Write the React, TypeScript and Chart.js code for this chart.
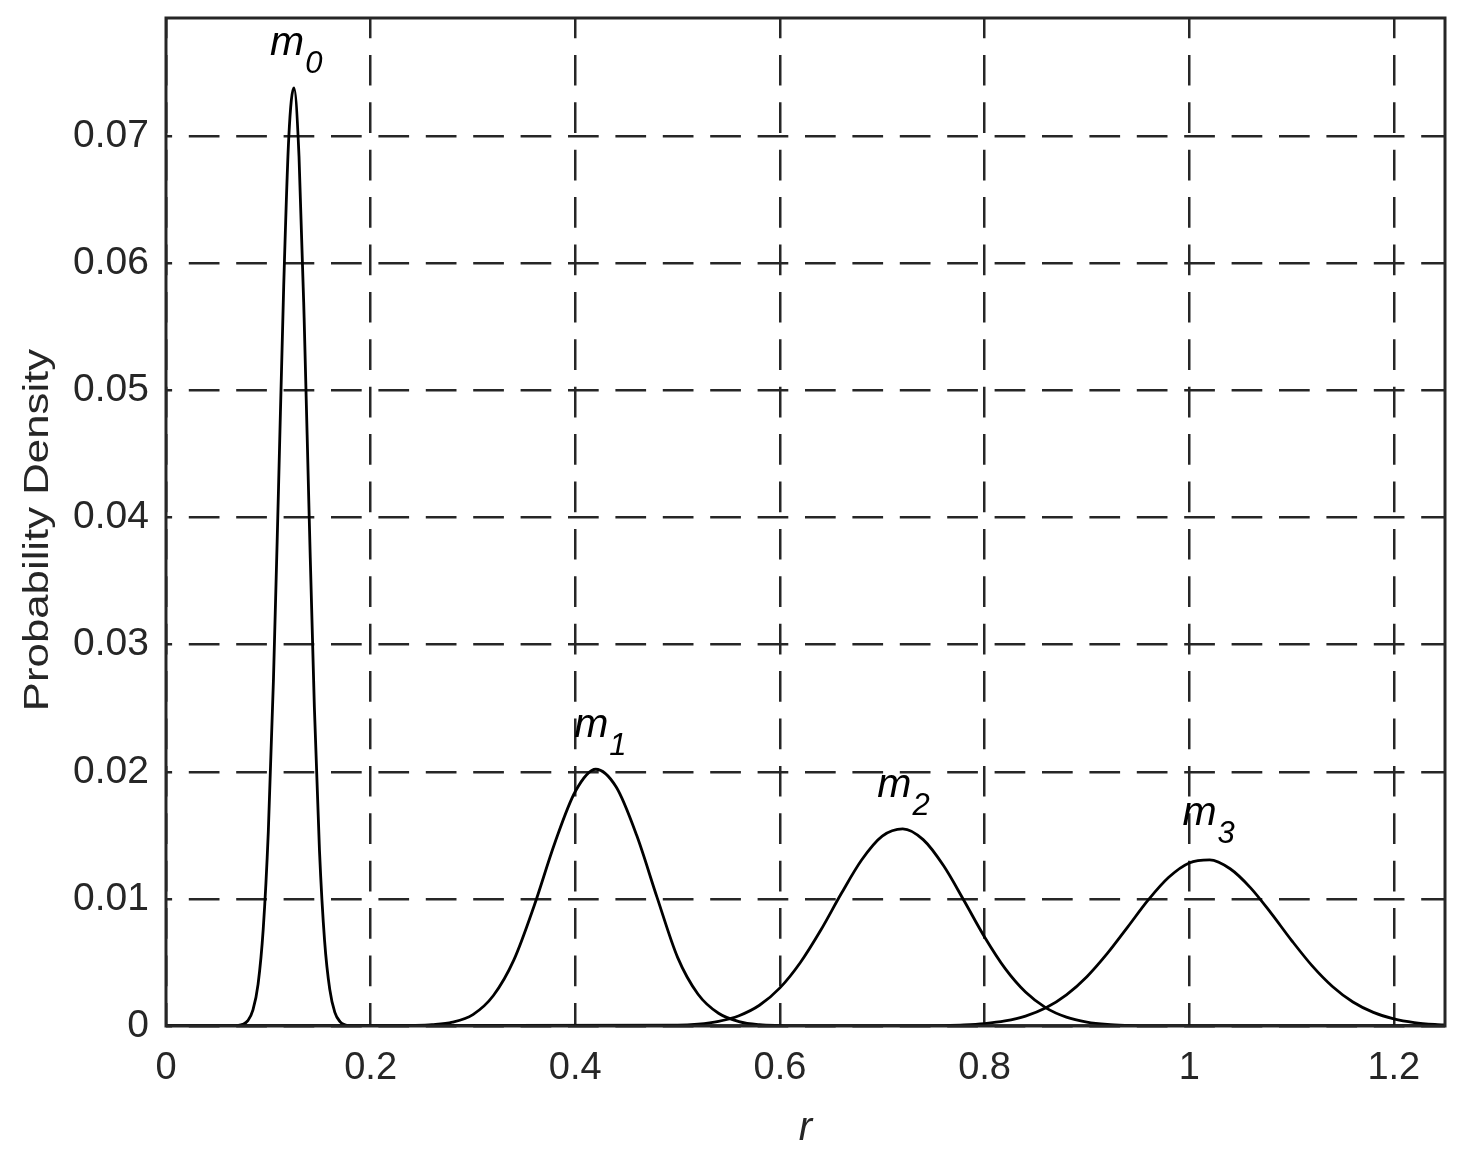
import React, { useEffect, useRef } from 'react';
import { Chart, registerables } from 'chart.js';

Chart.register(...registerables);

// ---- axis ticks ----
const xTickValues = [0, 0.2, 0.4, 0.6, 0.8, 1, 1.2];
const xTickLabels = ['0', '0.2', '0.4', '0.6', '0.8', '1', '1.2'];
const yTickValues = [0, 0.01, 0.02, 0.03, 0.04, 0.05, 0.06, 0.07];
const yTickLabels = ['0', '0.01', '0.02', '0.03', '0.04', '0.05', '0.06', '0.07'];
const xMin = 0;
const xMax = 1.25;
const yMin = 0;
const yMax = 0.0793;

// ---- curves (r, probability density) ----
const m0R = [0, 0.065, 0.07, 0.075, 0.08, 0.085, 0.09, 0.095, 0.1, 0.105, 0.11, 0.115, 0.12, 0.125, 0.13, 0.135, 0.14, 0.145, 0.15, 0.155, 0.16, 0.165, 0.17, 0.175, 0.18, 0.185, 1.25];
const m0P = [0, 0, 0.00003, 0.00013, 0.00042, 0.00126, 0.0033, 0.0076, 0.0153, 0.0272, 0.0424, 0.0581, 0.0699, 0.0738, 0.0684, 0.0557, 0.0399, 0.0251, 0.0138, 0.0067, 0.0029, 0.00107, 0.00035, 0.0001, 0.00003, 0, 0];

const m1R = [0, 0.22, 0.24, 0.26, 0.28, 0.3, 0.32, 0.34, 0.36, 0.38, 0.4, 0.42, 0.44, 0.46, 0.48, 0.5, 0.52, 0.54, 0.56, 0.58, 0.6, 0.62, 1.25];
const m1P = [0, 0, 0.00003, 0.0001, 0.0003, 0.0009, 0.0024, 0.0052, 0.0095, 0.0144, 0.01845, 0.0202, 0.0188, 0.015, 0.0101, 0.0054, 0.0025, 0.001, 0.00035, 0.0001, 0.00003, 0, 0];

const m2R = [0, 0.5, 0.52, 0.54, 0.56, 0.58, 0.6, 0.62, 0.64, 0.66, 0.68, 0.7, 0.72, 0.74, 0.76, 0.78, 0.8, 0.82, 0.84, 0.86, 0.88, 0.9, 0.92, 0.94, 0.96, 1.25];
const m2P = [0, 0.00006, 0.00015, 0.00037, 0.00081, 0.00163, 0.003, 0.005, 0.00755, 0.01042, 0.01308, 0.01494, 0.01551, 0.01466, 0.0126, 0.00985, 0.007, 0.00453, 0.00267, 0.00143, 0.0007, 0.00031, 0.00012, 0.00004, 0, 0];

const m3R = [0, 0.72, 0.74, 0.76, 0.78, 0.8, 0.82, 0.84, 0.86, 0.88, 0.9, 0.92, 0.94, 0.96, 0.98, 1, 1.02, 1.04, 1.06, 1.08, 1.1, 1.12, 1.14, 1.16, 1.18, 1.2, 1.22, 1.24, 1.25];
const m3P = [0, 0, 0.00001, 0.00003, 0.00008, 0.00019, 0.0004, 0.00078, 0.00143, 0.00245, 0.00388, 0.00571, 0.0078, 0.00992, 0.0117, 0.01283, 0.01307, 0.01237, 0.01087, 0.00888, 0.00674, 0.00475, 0.00311, 0.00189, 0.00107, 0.00056, 0.00027, 0.00012, 0.00008];

// ---- curve labels (text anchors in data units) ----
const labelMain = ['m', 'm', 'm', 'm'];
const labelSub = ['0', '1', '2', '3'];
const labelR = [0.1017, 0.3989, 0.6951, 0.9934];
const labelP = [0.0764, 0.0227, 0.01798, 0.01578];

const xTitle = 'r';
const yTitle = 'Probability Density';

const FONT = '"Liberation Sans", Arial, Helvetica, sans-serif';
const INK = '#262626';

function pts(rs: number[], ps: number[]) {
  return rs.map((r, i) => ({ x: r, y: ps[i] }));
}

function labelFor(values: number[], labels: string[], v: number) {
  const i = values.findIndex((t) => Math.abs(t - v) < 1e-9);
  return i >= 0 ? labels[i] : '';
}

const framePlugin = {
  id: 'framePlugin',
  afterDraw(chart: any) {
    const { ctx, chartArea } = chart;
    const { left, right, top, bottom } = chartArea;
    const xs = chart.scales.x;
    const ys = chart.scales.y;
    ctx.save();
    // axes box
    ctx.strokeStyle = INK;
    ctx.lineWidth = 3;
    ctx.setLineDash([]);
    ctx.strokeRect(left, top, right - left, bottom - top);

    // curve labels
    ctx.fillStyle = '#000';
    ctx.textBaseline = 'alphabetic';
    ctx.textAlign = 'left';
    for (let i = 0; i < labelMain.length; i++) {
      const px = xs.getPixelForValue(labelR[i]);
      const py = ys.getPixelForValue(labelP[i]);
      ctx.font = `italic 41px ${FONT}`;
      ctx.fillText(labelMain[i], px, py);
      const w = ctx.measureText(labelMain[i]).width;
      ctx.font = `italic 31px ${FONT}`;
      ctx.fillText(labelSub[i], px + w + 1, py + 18);
    }

    // x title
    ctx.fillStyle = INK;
    ctx.font = `italic 40px ${FONT}`;
    ctx.textAlign = 'center';
    ctx.fillText(xTitle, (left + right) / 2, 1140);

    // y title (rotated, slightly stretched along its length)
    ctx.save();
    ctx.translate(48, (top + bottom) / 2 + 8);
    ctx.rotate(-Math.PI / 2);
    ctx.scale(1.25, 1);
    ctx.font = `35px ${FONT}`;
    ctx.textAlign = 'center';
    ctx.textBaseline = 'alphabetic';
    ctx.fillText(yTitle, 0, 0);
    ctx.restore();

    ctx.restore();
  },
};

export default function App() {
  const ref = useRef<HTMLCanvasElement | null>(null);

  useEffect(() => {
    if (!ref.current) return;
    const lineStyle = {
      borderColor: '#000',
      borderWidth: 2.8,
      pointRadius: 0,
      pointHoverRadius: 0,
      fill: false,
      cubicInterpolationMode: 'monotone' as const,
    };
    const chart = new Chart(ref.current, {
      type: 'line',
      data: {
        datasets: [
          { label: 'm0', data: pts(m0R, m0P), ...lineStyle },
          { label: 'm1', data: pts(m1R, m1P), ...lineStyle },
          { label: 'm2', data: pts(m2R, m2P), ...lineStyle },
          { label: 'm3', data: pts(m3R, m3P), ...lineStyle },
        ],
      },
      options: {
        animation: false,
        responsive: false,
        devicePixelRatio: 1,
        events: [],
        layout: { padding: { left: 0, right: 17, top: 18, bottom: 0 } },
        plugins: {
          legend: { display: false },
          tooltip: { enabled: false },
        },
        scales: {
          x: {
            type: 'linear',
            min: xMin,
            max: xMax,
            afterBuildTicks: (s: any) => {
              s.ticks = xTickValues.map((v) => ({ value: v }));
            },
            afterFit: (s: any) => {
              s.height = 134;
              s.paddingLeft = 0;
              s.paddingRight = 0;
            },
            ticks: {
              autoSkip: false,
              maxRotation: 0,
              minRotation: 0,
              padding: 20,
              color: INK,
              font: { family: FONT, size: 38 },
              callback: (v: any) => labelFor(xTickValues, xTickLabels, Number(v)),
            },
            grid: {
              color: INK,
              lineWidth: 2.5,
              drawTicks: false,
              tickLength: 0,
            },
            border: { display: false, dash: [30.7, 16.7], dashOffset: 10.5 },
          },
          y: {
            type: 'linear',
            min: yMin,
            max: yMax,
            afterBuildTicks: (s: any) => {
              s.ticks = yTickValues.map((v) => ({ value: v }));
            },
            afterFit: (s: any) => {
              s.width = 166;
              s.paddingTop = 0;
              s.paddingBottom = 0;
            },
            ticks: {
              autoSkip: false,
              padding: 17,
              color: INK,
              font: { family: FONT, size: 39 },
              callback: (v: any) => labelFor(yTickValues, yTickLabels, Number(v)),
            },
            grid: {
              color: INK,
              lineWidth: 2.5,
              drawTicks: false,
              tickLength: 0,
            },
            border: { display: false, dash: [30.7, 16.7], dashOffset: 24.6 },
          },
        },
      },
      plugins: [framePlugin],
    });
    return () => chart.destroy();
  }, []);

  return (
    <div style={{ position: 'absolute', left: 0, top: 0, width: 1462, height: 1160, background: '#fff' }}>
      <canvas ref={ref} width={1462} height={1160} style={{ display: 'block' }} />
    </div>
  );
}
